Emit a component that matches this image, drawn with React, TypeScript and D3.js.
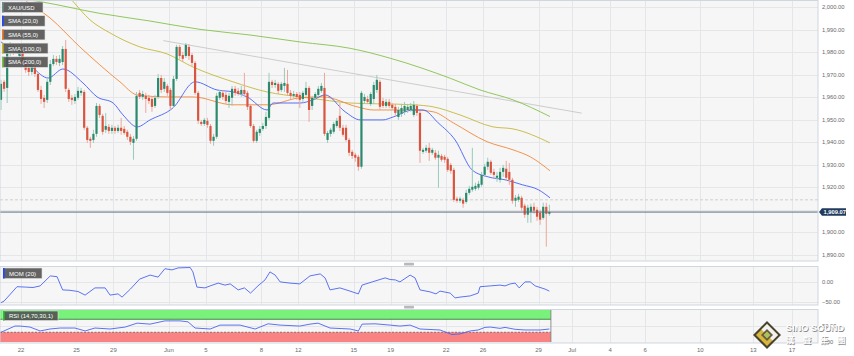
import React from "react";
import * as d3 from "d3";

// ---- Data (4h candles, XAU/USD) ----
const opens = [
  1958.9, 1966.9, 1964.2, 1980.2, 1982.8, 1981.1, 1978.4, 1981.1, 1976.6, 1973.1,
  1971.3, 1973.5, 1970.4, 1963.3, 1959.8, 1958.9, 1966.9, 1974.8, 1977.1, 1975.3,
  1975.7, 1981.5, 1963.3, 1959.8, 1958.4, 1959.8, 1962.0, 1962.4, 1946.5, 1941.6,
  1941.1, 1943.8, 1956.2, 1951.8, 1945.6, 1946.9, 1945.1, 1946.5, 1945.1, 1946.5,
  1946.0, 1944.7, 1942.5, 1939.8, 1941.6, 1962.0, 1960.2, 1960.7, 1959.8, 1959.3,
  1956.2, 1960.2, 1968.6, 1963.8, 1965.1, 1963.3, 1956.2, 1968.2, 1982.4, 1978.8,
  1978.4, 1982.4, 1978.8, 1975.3, 1962.0, 1949.1, 1948.2, 1949.6, 1947.3, 1940.7,
  1942.5, 1959.8, 1962.0, 1961.1, 1958.0, 1959.8, 1963.8, 1962.9, 1961.5, 1963.3,
  1962.0, 1956.2, 1947.3, 1940.7, 1944.2, 1946.0, 1947.3, 1950.9, 1966.9, 1965.5,
  1966.0, 1963.3, 1965.1, 1966.0, 1962.0, 1960.7, 1961.5, 1961.1, 1959.3, 1961.1,
  1964.2, 1956.2, 1959.8, 1961.1, 1962.9, 1964.2, 1941.1, 1943.8, 1944.7, 1947.3,
  1951.8, 1946.5, 1946.5, 1941.1, 1935.8, 1934.5, 1933.6, 1929.2, 1958.4, 1959.3,
  1957.1, 1959.3, 1963.3, 1966.9, 1958.4, 1956.2, 1958.0, 1956.7, 1955.8, 1951.3,
  1952.7, 1953.6, 1954.4, 1954.4, 1952.2, 1956.2, 1953.1, 1935.8, 1936.3, 1937.6,
  1935.4, 1935.4, 1933.2, 1934.0, 1933.6, 1932.7, 1930.0, 1927.8, 1915.0, 1914.1,
  1914.5, 1913.6, 1917.6, 1919.0, 1919.4, 1919.9, 1921.2, 1925.6, 1929.2, 1931.4,
  1926.9, 1924.3, 1923.4, 1926.9, 1928.3, 1926.9, 1923.4, 1914.1, 1914.5, 1915.4,
  1911.9, 1907.9, 1909.2, 1911.4, 1910.1, 1908.8, 1906.5, 1911.4, 1908.3,
];
const highs = [
  1967.8, 1967.8, 1981.9, 1984.6, 1983.7, 1983.3, 1983.3, 1981.9, 1977.9, 1974.8,
  1974.8, 1974.8, 1971.3, 1965.1, 1961.1, 1968.2, 1976.6, 1978.8, 1978.4, 1978.8,
  1982.8, 1985.5, 1964.2, 1961.1, 1961.5, 1964.7, 1964.2, 1963.3, 1947.3, 1942.5,
  1945.6, 1957.5, 1957.1, 1952.7, 1953.1, 1948.2, 1947.8, 1947.3, 1947.8, 1950.9,
  1947.3, 1945.6, 1943.8, 1942.9, 1962.4, 1963.3, 1962.9, 1962.0, 1961.1, 1960.2,
  1961.1, 1970.4, 1970.0, 1968.6, 1966.0, 1964.2, 1969.5, 1983.3, 1983.3, 1980.2,
  1984.2, 1983.7, 1979.7, 1976.2, 1962.9, 1950.0, 1950.9, 1950.9, 1948.2, 1943.8,
  1962.0, 1963.3, 1963.3, 1962.4, 1962.0, 1965.1, 1965.1, 1964.2, 1965.1, 1970.9,
  1962.9, 1957.1, 1948.2, 1945.6, 1947.3, 1948.7, 1953.6, 1970.9, 1967.8, 1967.8,
  1966.9, 1966.9, 1973.1, 1972.2, 1963.3, 1962.9, 1962.4, 1962.4, 1962.9, 1966.9,
  1965.1, 1960.7, 1962.4, 1965.1, 1966.4, 1970.9, 1945.1, 1946.5, 1949.1, 1950.9,
  1957.5, 1947.8, 1947.8, 1942.0, 1936.7, 1935.4, 1934.5, 1962.9, 1961.5, 1960.7,
  1962.4, 1966.9, 1970.0, 1967.8, 1959.8, 1959.3, 1959.3, 1957.5, 1957.1, 1955.8,
  1957.1, 1958.0, 1957.1, 1957.5, 1958.4, 1957.1, 1954.0, 1937.6, 1938.9, 1939.8,
  1937.6, 1936.7, 1936.3, 1934.9, 1934.5, 1933.6, 1930.9, 1928.7, 1915.9, 1915.9,
  1915.4, 1919.0, 1920.7, 1937.6, 1922.1, 1922.9, 1926.9, 1930.5, 1933.2, 1932.3,
  1928.3, 1926.9, 1928.7, 1930.0, 1931.8, 1930.9, 1924.3, 1916.7, 1917.2, 1916.3,
  1912.8, 1912.3, 1912.8, 1913.2, 1911.4, 1910.1, 1913.2, 1913.2, 1912.3,
];
const lows = [
  1954.4, 1962.4, 1957.5, 1978.4, 1978.8, 1979.7, 1977.5, 1974.4, 1970.9, 1969.5,
  1970.0, 1969.1, 1962.4, 1957.1, 1955.3, 1957.5, 1965.5, 1973.9, 1974.4, 1973.9,
  1974.4, 1962.4, 1958.0, 1956.7, 1957.1, 1958.9, 1960.7, 1945.6, 1939.8, 1937.6,
  1939.8, 1942.5, 1950.9, 1943.4, 1944.2, 1943.8, 1943.8, 1943.8, 1944.2, 1943.4,
  1943.4, 1941.1, 1938.9, 1932.3, 1940.7, 1959.3, 1958.9, 1953.1, 1957.1, 1953.6,
  1955.3, 1959.3, 1962.0, 1962.4, 1960.7, 1954.4, 1955.3, 1967.3, 1977.1, 1975.7,
  1977.5, 1976.6, 1973.9, 1961.1, 1948.2, 1947.3, 1947.3, 1946.5, 1939.4, 1938.5,
  1941.6, 1958.9, 1958.9, 1957.1, 1955.3, 1956.2, 1960.7, 1960.7, 1960.2, 1960.2,
  1954.4, 1946.5, 1939.8, 1939.8, 1942.9, 1945.1, 1946.0, 1950.0, 1964.2, 1964.2,
  1961.5, 1962.4, 1962.4, 1960.7, 1959.3, 1959.8, 1958.9, 1955.3, 1958.0, 1960.2,
  1949.1, 1954.4, 1958.9, 1960.2, 1962.0, 1942.9, 1939.8, 1942.5, 1943.8, 1946.5,
  1945.1, 1942.5, 1940.3, 1934.0, 1932.7, 1931.4, 1927.4, 1928.3, 1957.1, 1957.1,
  1956.2, 1957.1, 1962.0, 1954.4, 1955.3, 1955.3, 1955.3, 1954.4, 1951.8, 1950.0,
  1951.3, 1952.2, 1953.1, 1953.6, 1951.3, 1951.8, 1930.9, 1934.9, 1935.4, 1931.8,
  1934.5, 1932.3, 1919.9, 1931.4, 1930.9, 1926.9, 1926.1, 1913.6, 1913.2, 1913.2,
  1911.0, 1912.8, 1916.7, 1918.1, 1918.5, 1919.0, 1920.3, 1924.7, 1927.8, 1925.6,
  1924.3, 1922.5, 1922.1, 1924.7, 1922.9, 1921.2, 1912.8, 1911.4, 1913.6, 1909.7,
  1906.5, 1904.3, 1904.3, 1908.3, 1905.2, 1903.4, 1905.7, 1893.7, 1907.4,
];
const closes = [
  1966.0, 1963.8, 1980.2, 1982.8, 1981.1, 1982.4, 1981.9, 1975.7, 1972.2, 1971.3,
  1973.5, 1970.4, 1963.3, 1959.3, 1958.0, 1966.9, 1974.8, 1977.1, 1975.7, 1977.1,
  1981.5, 1963.8, 1959.3, 1958.9, 1960.2, 1962.9, 1962.9, 1946.5, 1941.1, 1940.7,
  1943.8, 1956.2, 1952.2, 1944.7, 1947.3, 1945.1, 1946.5, 1945.1, 1946.5, 1945.1,
  1944.2, 1942.5, 1940.3, 1941.6, 1960.7, 1960.2, 1961.5, 1959.3, 1958.4, 1955.8,
  1959.8, 1968.6, 1963.3, 1966.9, 1962.0, 1956.2, 1968.2, 1982.4, 1978.4, 1977.1,
  1983.3, 1978.4, 1975.3, 1962.0, 1949.6, 1948.2, 1950.0, 1947.8, 1940.7, 1942.5,
  1960.7, 1962.4, 1960.2, 1958.4, 1960.7, 1963.8, 1962.0, 1961.5, 1963.3, 1961.5,
  1955.8, 1947.3, 1940.7, 1944.7, 1946.0, 1947.3, 1951.3, 1966.9, 1965.5, 1966.4,
  1962.9, 1966.0, 1966.4, 1962.0, 1960.7, 1961.5, 1960.2, 1958.9, 1962.0, 1964.2,
  1954.4, 1959.8, 1961.5, 1963.8, 1965.1, 1943.8, 1944.2, 1945.6, 1948.2, 1949.6,
  1946.5, 1943.4, 1941.1, 1935.4, 1934.0, 1933.2, 1929.2, 1962.0, 1960.2, 1958.0,
  1961.5, 1965.5, 1967.8, 1955.8, 1956.2, 1958.0, 1956.2, 1955.3, 1953.1, 1954.4,
  1955.3, 1956.2, 1955.8, 1956.2, 1956.7, 1953.1, 1936.3, 1936.7, 1937.6, 1935.4,
  1936.7, 1933.2, 1934.5, 1932.3, 1932.3, 1927.8, 1927.4, 1914.5, 1914.1, 1915.0,
  1912.8, 1917.6, 1919.4, 1920.3, 1920.7, 1921.6, 1925.6, 1929.2, 1931.4, 1926.5,
  1925.6, 1925.2, 1926.9, 1928.7, 1924.3, 1923.4, 1914.1, 1915.4, 1915.9, 1911.0,
  1907.9, 1911.0, 1911.4, 1909.7, 1907.0, 1905.7, 1911.4, 1908.3, 1909.07,
];

// moving averages: [candle index, price]
const sma20: [number, number][] = [
  [0, 1984.6], [6.2, 1978.8], [10.4, 1973.1], [15.3, 1968.6], [20.1, 1972.6], [26.6, 1966.4],
  [31.2, 1960.2], [36.4, 1957.5], [39.6, 1952.2], [44.2, 1946.9], [48.4, 1950.0], [55.8, 1955.3],
  [63, 1966.9], [70.1, 1963.3], [75.3, 1962.4], [79.9, 1960.2], [86.4, 1954.4], [88.3, 1957.5],
  [97.1, 1957.5], [101.3, 1958.9], [105.2, 1961.1], [111.7, 1953.6], [116.6, 1950.0], [124, 1950.0],
  [127.3, 1951.3], [133.8, 1954.4], [137, 1954.4], [141.9, 1948.7], [147.4, 1941.1], [152.9, 1927.8],
  [158.1, 1924.7], [163.6, 1923.4], [169.2, 1921.2], [174.4, 1919.0], [178.2, 1915.4],
];
const sma55: [number, number][] = [
  [0, 2014.3], [7.8, 2003.2], [15.9, 1995.3], [25.6, 1982.4], [32.1, 1974.4], [38.6, 1966.9],
  [44.2, 1961.1], [53.9, 1960.2], [62.3, 1960.2], [75.3, 1956.7], [86.4, 1956.7], [97.1, 1959.8],
  [104.5, 1960.2], [115.6, 1955.8], [120.8, 1954.4], [133.8, 1954.4], [140.3, 1953.6], [146.8, 1948.7],
  [157.8, 1940.3], [166.2, 1936.7], [171.8, 1933.6], [178.2, 1927.4],
];
const sma100: [number, number][] = [
  [15.9, 2014.3], [23, 2003.2], [28.9, 1994.4], [35.4, 1988.6], [45.1, 1982.4], [53.9, 1979.3],
  [62.3, 1973.5], [75.3, 1966.9], [86.4, 1962.4], [97.1, 1960.2], [104.5, 1958.9], [113.3, 1957.5],
  [133.8, 1956.7], [140.3, 1955.8], [149, 1952.2], [159.7, 1946.9], [166.2, 1946.0], [178.2, 1939.8],
];
const sma200: [number, number][] = [
  [0, 2007.0], [9.4, 2003.2], [12.7, 2002.5], [32.1, 1997.3], [48.4, 1993.9], [64.6, 1990.2],
  [80.8, 1987.7], [97.1, 1984.6], [113.3, 1981.8], [126.3, 1977.4], [145.8, 1968.5], [155.5, 1963.3],
  [166.2, 1958.9], [178.2, 1951.5],
];
const trendLine: [number, number][] = [[52.7, 1985.2], [188.5, 1953.0]];

// Momentum (20): [candle index, value]
const momPoints: [number, number][] = [
  [0, -51], [1, -47], [5.2, -11], [8, -12], [10.4, -13], [12.7, -9], [16, 16], [18.2, 14], [20, -19],
  [22.4, -20], [25, -23], [27.3, -32], [30.5, -14], [33.8, -14], [35.4, -32], [38, -29], [39.3, -37],
  [42, -17], [45, 8], [48.4, 18], [51, 13], [53.2, 34], [55.5, 31], [57.5, 36], [61.4, 37], [62.3, 26],
  [63.6, -12], [66.2, -14], [67.9, -9], [70.5, -2], [72.7, -7], [74.4, -4], [77, -19], [79, -14],
  [81, -27], [83.4, -9], [85.7, 6], [87.3, 26], [89, 18], [90.6, 1], [93.8, -2], [97, -4], [100.3, 16],
  [103.6, 21], [105.2, 11], [106.8, -19], [110, -14], [113.3, -22], [116, -29], [117.2, -7], [120.5, 1],
  [124.7, 11], [126.3, 7], [128, 6], [129.5, 1], [132.8, 18], [134.4, 11], [136, -19], [139.3, -24],
  [141.2, -29], [142.5, -22], [145.8, -27], [147.4, -39], [149, -37], [152.3, -34], [154.9, -27],
  [155.5, -11], [158.8, -9], [162, -7], [163.6, -9], [165.3, -4], [166.9, -2], [168.2, -14], [170.1, 1],
  [171.8, 1], [173.4, -9], [176.6, -17], [178, -22],
];
// RSI (14): [candle index, value]
const rsiPoints: [number, number][] = [
  [0, 30], [4.5, 49], [6.2, 49], [9.4, 46], [12.7, 34], [15.9, 40], [19.2, 43], [24, 43], [27.3, 34],
  [30.5, 43], [35.4, 40], [40.3, 46], [44.2, 58], [48.4, 55], [53.2, 65], [58.1, 65], [60.7, 62],
  [63, 43], [67.9, 40], [71.1, 52], [77.6, 52], [82.5, 40], [86.7, 56], [90.6, 52], [97, 49],
  [100.3, 55], [102.9, 58], [106.8, 43], [113.3, 40], [116, 34], [117.2, 55], [121.4, 56], [126.3, 52],
  [129.5, 49], [132.8, 52], [136, 40], [142.5, 37], [146.4, 23], [149, 25], [152.3, 34], [154.9, 37],
  [157.1, 45], [158.8, 46], [162, 42], [163.6, 45], [166.9, 39], [170.1, 37], [175, 37], [178, 40],
];

const priceTicks = [2000, 1990, 1980, 1970, 1960, 1950, 1940, 1930, 1920, 1900, 1890];
const priceGrid = [2000, 1990, 1980, 1970, 1960, 1950, 1940, 1930, 1920, 1910, 1900, 1890];
const dateLabels = ["22", "25", "29", "Jun", "5", "8", "12", "15", "19", "22", "26", "29", "Jul", "4", "6", "10", "13", "17"];
const dateIdx = [7, 25, 37, 55, 67, 85, 97, 115, 127, 145, 157, 175, 185.9, 198.2, 209.6, 227.5, 244.7, 257.3];
const momTicks = [0, -50];
const rsiTicks = [50, 0];
const lastPrice = 1909.07;
const prevLevel = 1914.5;
const legendItems = ["XAU/USD", "SMA (20,0)", "SMA (55,0)", "SMA (100,0)", "SMA (200,0)"];

const FONT = "'Liberation Sans', Arial, sans-serif";
const GREEN = "#2b8a6e";
const RED = "#d9553f";
const GREEN_W = "#98cbbb";
const RED_W = "#eda79c";
const GRID = "#e4e6e9";
const BORDER = "#cfd6df";
const PANEL = "#f6f6f6";

export default function App() {
  const W = 854, H = 356;
  const R = 818;
  const x = d3.scaleLinear().domain([0, 265.7]).range([-0.54, R]);
  const cx = (i: number) => x(i + 0.5);
  const y = d3.scaleLinear().domain([1890, 2000]).range([255, 7.3]);
  const mainTop = 0.5, mainBot = 261;
  const momY = d3.scaleLinear().domain([-50, 0]).range([302.3, 282.3]);
  const momTop = 266.5, momBot = 305;
  const rsiY = d3.scaleLinear().domain([0, 100]).range([342, 309.5]);
  const rsiTop = 309.5, rsiBot = 343;
  const fmt = d3.format(",.2f");
  const n = closes.length;

  const priceLine = d3.line<[number, number]>().x((d) => cx(d[0])).y((d) => y(d[1])).curve(d3.curveMonotoneX);
  const momLine = d3.line<[number, number]>().x((d) => cx(d[0])).y((d) => momY(d[1]));
  const rsiLine = d3.line<[number, number]>().x((d) => cx(d[0])).y((d) => rsiY(d[1]));
  const dataEnd = x(n);

  const vGrid = (top: number, bot: number) =>
    dateIdx.map((d, k) => (
      <line key={"vg" + top + k} x1={Math.round(x(d)) + 0.5} x2={Math.round(x(d)) + 0.5} y1={top} y2={bot} stroke={GRID} strokeWidth={1} />
    ));

  const legendColors = ["#6f8f86", "#2446ff", "#f07b2c", "#c9b526", "#7cc242"];
  const legendW = [41, 43, 43, 46, 46];

  return (
    <div style={{ position: "absolute", left: 0, top: 0, width: W, height: H }}>
      <svg width={W} height={H} viewBox={`0 0 ${W} ${H}`} style={{ display: "block", fontFamily: FONT }}>
        <defs>
          <clipPath id="mainClip"><rect x={0} y={mainTop} width={R} height={mainBot - mainTop} /></clipPath>
        </defs>
        <rect x={0} y={0} width={W} height={H} fill="#ffffff" />

        {/* ---------- main panel ---------- */}
        <rect x={0} y={mainTop} width={R} height={mainBot - mainTop} fill={PANEL} />
        {priceGrid.map((p) => (
          <line key={"hg" + p} x1={0} x2={R} y1={Math.round(y(p)) + 0.5} y2={Math.round(y(p)) + 0.5} stroke={GRID} />
        ))}
        {vGrid(mainTop, mainBot)}
        <line x1={0} x2={R} y1={y(prevLevel)} y2={y(prevLevel)} stroke="#cfcfcf" strokeWidth={1} strokeDasharray="3,2" />

        <g clipPath="url(#mainClip)">
          <path d={priceLine(trendLine) || ""} fill="none" stroke="#cccccc" strokeWidth={1} />
          <path d={priceLine(sma200) || ""} fill="none" stroke="#84c24a" strokeWidth={0.9} />
          <path d={priceLine(sma100) || ""} fill="none" stroke="#c6b83a" strokeWidth={0.9} />
          <path d={priceLine(sma55) || ""} fill="none" stroke="#f0883a" strokeWidth={0.9} />
          <path d={priceLine(sma20) || ""} fill="none" stroke="#4660f5" strokeWidth={0.9} />
          {closes.map((c, i) => {
            const o = opens[i];
            const up = c >= o;
            const top = y(Math.max(o, c));
            const bot = y(Math.min(o, c));
            const xc = cx(i);
            return (
              <g key={"c" + i}>
                <line x1={xc} x2={xc} y1={y(highs[i])} y2={y(lows[i])} stroke={up ? GREEN_W : RED_W} strokeWidth={1} />
                <rect x={xc - 1.1} y={top} width={2.2} height={Math.max(1, bot - top)} fill={up ? GREEN : RED} />
              </g>
            );
          })}
        </g>
        <line x1={0} x2={R} y1={y(lastPrice)} y2={y(lastPrice)} stroke="#5b6b7b" strokeWidth={1} />
        <rect x={0} y={mainTop} width={R} height={mainBot - mainTop} fill="none" stroke={BORDER} strokeWidth={1} />

        {/* price axis */}
        {priceTicks.map((p) => (
          <text key={"pt" + p} x={822} y={y(p) + 2} fontSize={5.8} fill="#6a6a6a">{fmt(p)}</text>
        ))}
        <path d={`M819,${y(lastPrice)} L822,${y(lastPrice) - 3.7} L846,${y(lastPrice) - 3.7} L846,${y(lastPrice) + 3.7} L822,${y(lastPrice) + 3.7} Z`} fill="#1f3b5e" />
        <text x={823.5} y={y(lastPrice) + 2} fontSize={5.8} fill="#ffffff" fontWeight="bold">{fmt(lastPrice)}</text>

        {/* legend */}
        {legendItems.map((t, k) => {
          const ty = 2 + k * 13.7;
          return (
            <g key={"lg" + k}>
              <rect x={2} y={ty} width={legendW[k]} height={10.5} fill="#4f4f4f" fillOpacity={0.88} stroke="#e0e0e0" strokeWidth={0.6} />
              <rect x={2} y={ty} width={1.6} height={10.5} fill={legendColors[k]} />
              <text x={8} y={ty + 7.5} fontSize={6} fill="#ffffff">{t}</text>
            </g>
          );
        })}

        {/* handles */}
        <rect x={404} y={262.8} width={10} height={2.8} rx={0.8} fill="#b9b9b9" />
        <rect x={404} y={305.8} width={10} height={2.8} rx={0.8} fill="#b9b9b9" />

        {/* ---------- MOM panel ---------- */}
        <rect x={0} y={momTop} width={R} height={momBot - momTop} fill={PANEL} />
        {momTicks.map((v) => (
          <line key={"mg" + v} x1={0} x2={R} y1={Math.round(momY(v)) + 0.5} y2={Math.round(momY(v)) + 0.5} stroke={GRID} />
        ))}
        {vGrid(momTop, momBot)}
        <path d={momLine(momPoints) || ""} fill="none" stroke="#4a64f0" strokeWidth={0.9} />
        <rect x={0} y={momTop} width={R} height={momBot - momTop} fill="none" stroke={BORDER} strokeWidth={1} />
        {momTicks.map((v) => (
          <text key={"mt" + v} x={822} y={momY(v) + 2} fontSize={5.8} fill="#6a6a6a">{fmt(v)}</text>
        ))}
        <rect x={3} y={268} width={39} height={10.5} fill="#4f4f4f" fillOpacity={0.88} stroke="#e0e0e0" strokeWidth={0.6} />
        <rect x={3} y={268} width={1.6} height={10.5} fill="#2446ff" />
        <text x={9} y={275.5} fontSize={6} fill="#ffffff">MOM (20)</text>

        {/* ---------- RSI panel ---------- */}
        <rect x={0} y={rsiTop} width={R} height={rsiBot - rsiTop} fill={PANEL} />
        <line x1={0} x2={R} y1={Math.round(rsiY(50)) + 0.5} y2={Math.round(rsiY(50)) + 0.5} stroke={GRID} />
        {vGrid(rsiTop, rsiBot)}
        <rect x={0} y={rsiY(100)} width={dataEnd} height={rsiY(70) - rsiY(100)} fill="#78f27a" />
        <rect x={0} y={rsiY(30)} width={dataEnd} height={rsiY(0) - rsiY(30)} fill="#f98282" />
        <line x1={0} x2={dataEnd} y1={rsiY(70)} y2={rsiY(70)} stroke="#2f6a32" strokeWidth={0.8} />
        <line x1={0} x2={dataEnd} y1={rsiY(30)} y2={rsiY(30)} stroke="#555555" strokeWidth={0.7} strokeDasharray="2,1.5" />
        <line x1={dataEnd} x2={dataEnd} y1={rsiY(100)} y2={rsiY(0)} stroke="#777777" strokeWidth={0.8} />
        <path d={rsiLine(rsiPoints) || ""} fill="none" stroke="#4a64f0" strokeWidth={0.9} />
        <rect x={0} y={rsiTop} width={R} height={rsiBot - rsiTop} fill="none" stroke={BORDER} strokeWidth={1} />
        {rsiTicks.map((v) => (
          <text key={"rt" + v} x={822} y={rsiY(v) + 2} fontSize={5.8} fill="#6a6a6a">{fmt(v)}</text>
        ))}
        <rect x={3} y={311} width={55} height={9.5} fill="#4f4f4f" fillOpacity={0.88} stroke="#e0e0e0" strokeWidth={0.6} />
        <rect x={3} y={311} width={1.6} height={9.5} fill="#28c428" />
        <text x={9} y={318} fontSize={6} fill="#ffffff">RSI (14,70,30,1)</text>

        {/* date axis */}
        {dateLabels.map((t, k) => (
          <text key={"dt" + k} x={x(dateIdx[k])} y={352} fontSize={6} fill="#6a6a6a" textAnchor="middle">{t}</text>
        ))}

        {/* watermark */}
        <g opacity={0.92}>
          <polygon points="767,321 781,335 767,349 753,335" fill="#3b3522" />
          <polygon points="767,324 778,335 767,346 756,335" fill="#d6b22e" />
          <polygon points="767,324 778,335 772.5,340.5 761.5,329.5" fill="#f2f2f2" />
          <polygon points="767,329 773,335 767,341 761,335" fill="#5a5030" />
          <polygon points="767,331.5 770.5,335 767,338.5 763.5,335" fill="#a9bd4e" />
        </g>
        <g fontWeight="bold" fontSize={9}>
          <text x={786.8} y={331.8} fill="#8a8a8a" textLength={58} lengthAdjust="spacingAndGlyphs">SINO SOUND</text>
          <text x={786} y={331} fill="#ffffff" textLength={58} lengthAdjust="spacingAndGlyphs">SINO SOUND</text>
        </g>
        <g fontSize={8.5} fontWeight="bold" fontFamily="'Noto Sans CJK TC', 'Noto Sans CJK SC', sans-serif">
          {["漢", "聲", "集", "團"].map((ch, k) => (
            <g key={"cn" + k}>
              <text x={786.8 + k * 17} y={343.8} fill="#8a8a8a">{ch}</text>
              <text x={786 + k * 17} y={343} fill="#ffffff">{ch}</text>
            </g>
          ))}
        </g>
      </svg>
    </div>
  );
}
